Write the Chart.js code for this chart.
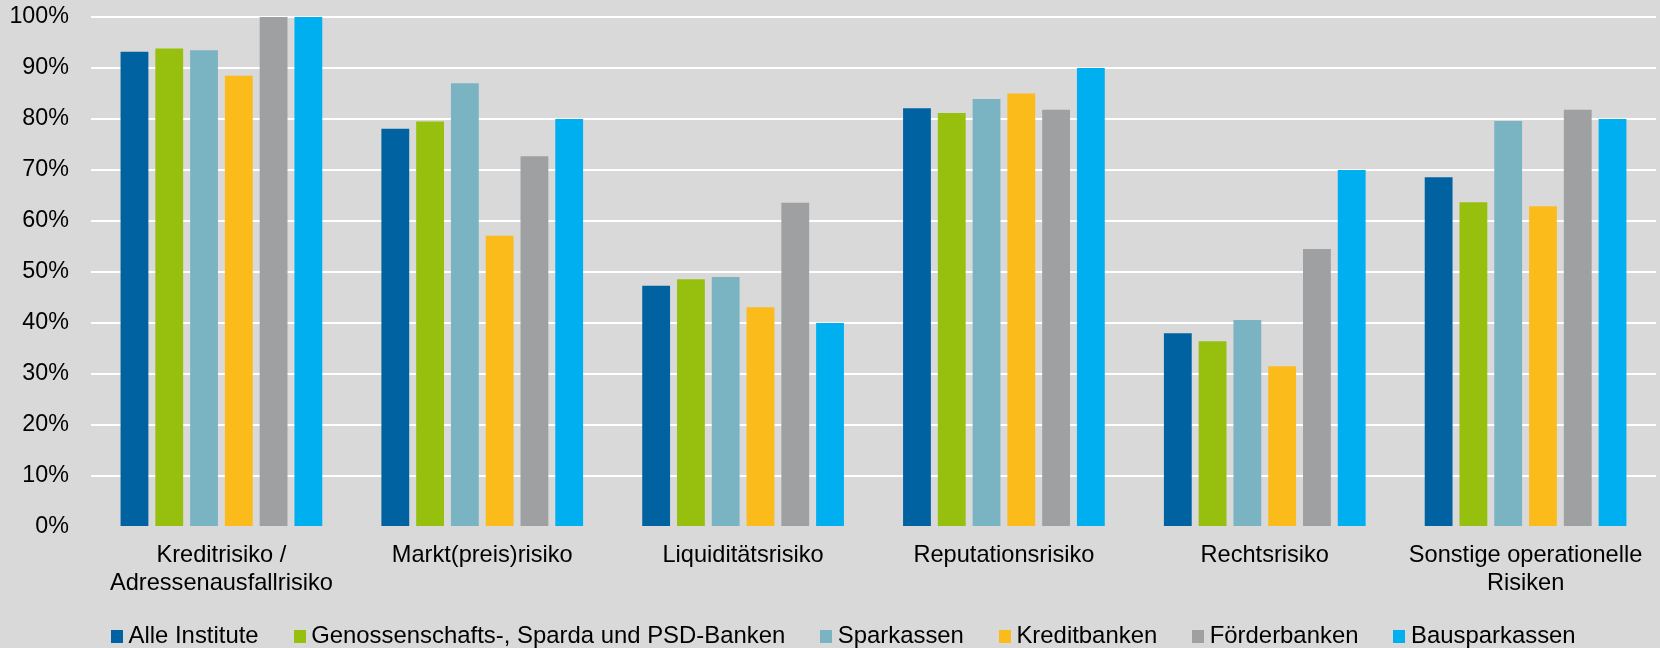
<!DOCTYPE html>
<html>
<head>
<meta charset="utf-8">
<script src="https://cdn.jsdelivr.net/npm/chart.js@4.4.0/dist/chart.umd.min.js"></script>
<style>
  html, body { margin: 0; padding: 0; background: #D9D9D9; }
  #wrap { position: relative; width: 1660px; height: 648px; background: #D9D9D9; overflow: hidden; }
  canvas { position: absolute; left: 0; top: 0; }
  #legend { position: absolute; left: 111px; top: 622px; display: flex; font-family: "Liberation Sans", Arial, sans-serif; font-size: 23.9px; line-height: 26px; color: #000; white-space: nowrap; }
  #legend .item { display: flex; align-items: center; margin-right: 35px; }
  #legend .box { width: 12px; height: 13px; margin-right: 5.5px; position: relative; top: 1.5px; }
</style>
</head>
<body>
<div id="wrap">
  <canvas id="c" width="1660" height="648"></canvas>
  <div id="legend"></div>
</div>
<script>
const categories = [
  ["Kreditrisiko /", "Adressenausfallrisiko"],
  "Markt(preis)risiko",
  "Liquiditätsrisiko",
  "Reputationsrisiko",
  "Rechtsrisiko",
  ["Sonstige operationelle", "Risiken"]
];
const seriesNames = [
  "Alle Institute",
  "Genossenschafts-, Sparda und PSD-Banken",
  "Sparkassen",
  "Kreditbanken",
  "Förderbanken",
  "Bausparkassen"
];
const alleInstitute   = [93.2, 78.1, 47.3, 82.1, 38.0, 68.6];
const genossenschaft  = [93.8, 79.5, 48.6, 81.2, 36.4, 63.7];
const sparkassen      = [93.5, 87.0, 49.0, 83.9, 40.6, 79.6];
const kreditbanken    = [88.5, 57.1, 43.1, 85.0, 31.5, 62.9];
const foerderbanken   = [100, 72.7, 63.6, 81.8, 54.5, 81.8];
const bausparkassen   = [100, 80, 40, 90, 70, 80];
const yTicks = [0, 10, 20, 30, 40, 50, 60, 70, 80, 90, 100];

const colors = ["#0062A1", "#97BF0D", "#7AB4C3", "#FBBC1B", "#9FA0A2", "#00AFEF"];
const seriesValues = [alleInstitute, genossenschaft, sparkassen, kreditbanken, foerderbanken, bausparkassen];

const FONT = "'Liberation Sans', Arial, sans-serif";

const bgPlugin = {
  id: 'bg',
  beforeDraw(chart) {
    const ctx = chart.ctx;
    ctx.save();
    ctx.fillStyle = '#D9D9D9';
    ctx.fillRect(0, 0, chart.width, chart.height);
    ctx.restore();
  }
};

new Chart(document.getElementById('c'), {
  type: 'bar',
  data: {
    labels: categories,
    datasets: seriesNames.map((name, i) => ({
      label: name,
      data: seriesValues[i],
      backgroundColor: colors[i],
      borderWidth: 0,
      categoryPercentage: 0.8,
      barPercentage: 0.8
    }))
  },
  options: {
    responsive: false,
    devicePixelRatio: 1,
    animation: false,
    layout: { padding: { top: 17, right: 4, bottom: 0, left: 0 } },
    plugins: {
      legend: { display: false },
      tooltip: { enabled: false }
    },
    scales: {
      x: {
        grid: { display: false, drawTicks: false },
        border: { display: false },
        ticks: {
          color: '#000',
          padding: 15,
          maxRotation: 0,
          autoSkip: false,
          font: { family: FONT, size: 23.6, lineHeight: 1.17 }
        },
        afterFit(scale) { scale.height = 121; scale.paddingLeft = 0; scale.paddingRight = 0; }
      },
      y: {
        min: 0,
        max: 100,
        grid: {
          drawTicks: false,
          lineWidth: 2,
          color: (ctx) => (ctx.tick && ctx.tick.value === 0) ? 'rgba(0,0,0,0)' : '#FFFFFF'
        },
        border: { display: false },
        afterBuildTicks(scale) { scale.ticks = yTicks.map(v => ({ value: v })); },
        ticks: {
          color: '#000',
          padding: 22,
          font: { family: FONT, size: 23.3 },
          callback: (v) => v + '%'
        },
        afterFit(scale) { scale.width = 91; scale.paddingTop = 0; scale.paddingBottom = 0; }
      }
    }
  },
  plugins: [bgPlugin]
});

const legend = document.getElementById('legend');
seriesNames.forEach((name, i) => {
  const item = document.createElement('span');
  item.className = 'item';
  const box = document.createElement('span');
  box.className = 'box';
  box.style.background = colors[i];
  item.appendChild(box);
  item.appendChild(document.createTextNode(name));
  legend.appendChild(item);
});
</script>
</body>
</html>
